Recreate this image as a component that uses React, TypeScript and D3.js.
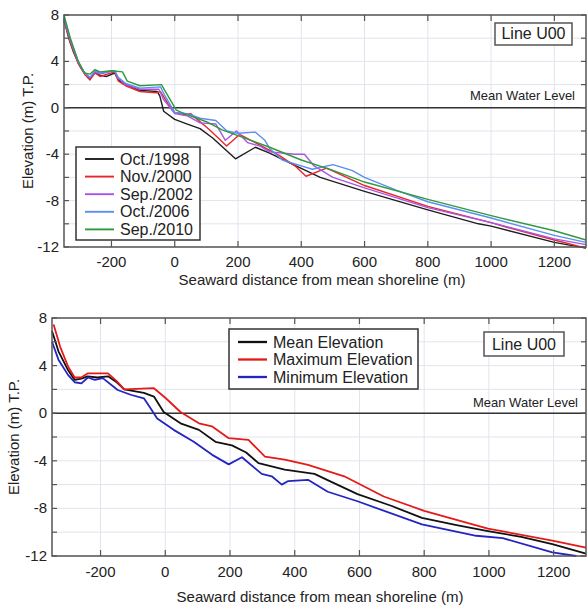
import * as d3 from 'd3';
import React from 'react';

// survey profiles, [distance (m), elevation (m T.P.)]
const oct1998 = [[-350,7.6],[-335,6.0],[-320,4.8],[-300,3.6],[-285,3.0],[-268,2.5],[-252,3.1],[-236,2.8],[-215,2.7],[-190,3.0],[-178,2.4],[-155,2.0],[-110,1.5],[-55,1.4],[-47,1.0],[-35,-0.3],[0,-1.0],[40,-1.4],[80,-1.8],[120,-2.6],[192,-4.4],[255,-3.4],[300,-3.9],[360,-4.7],[460,-6.0],[600,-7.2],[800,-8.8],[960,-10.0],[1000,-10.2],[1200,-11.6],[1300,-12.1]];
const nov2000 = [[-350,7.5],[-330,5.6],[-305,3.8],[-285,2.9],[-268,2.4],[-252,3.0],[-236,2.7],[-190,3.1],[-178,2.3],[-155,1.9],[-110,1.4],[-60,1.3],[-45,1.4],[-20,0.3],[0,-0.4],[30,-0.6],[50,-0.5],[110,-1.9],[164,-3.3],[205,-2.3],[268,-3.2],[330,-4.1],[380,-5.0],[415,-5.9],[480,-5.2],[600,-6.7],[800,-8.5],[1000,-9.9],[1050,-10.3],[1200,-11.4],[1300,-12.1]];
const sep2002 = [[-350,7.7],[-330,5.8],[-305,3.9],[-285,3.0],[-268,2.6],[-252,3.1],[-236,2.9],[-190,3.2],[-180,2.6],[-155,2.0],[-110,1.6],[-50,1.6],[-35,0.7],[0,-0.5],[40,-0.7],[80,-1.3],[130,-1.4],[160,-2.8],[195,-2.0],[230,-3.0],[270,-3.3],[300,-3.8],[380,-4.0],[410,-4.0],[440,-5.0],[500,-6.0],[600,-6.9],[800,-8.6],[1000,-9.9],[1200,-11.3],[1300,-11.8]];
const oct2006 = [[-350,7.8],[-330,5.9],[-305,4.0],[-285,3.0],[-268,2.6],[-252,3.2],[-236,3.0],[-190,3.2],[-178,2.6],[-155,2.1],[-110,1.7],[-45,1.8],[-30,1.0],[0,-0.4],[40,-0.5],[80,-0.9],[130,-1.1],[165,-2.0],[200,-2.2],[255,-2.1],[285,-2.8],[300,-3.5],[340,-4.5],[400,-5.0],[435,-5.3],[500,-4.9],[560,-5.4],[600,-6.0],[700,-7.1],[800,-8.1],[1000,-9.5],[1200,-11.0],[1300,-11.6]];
const sep2010 = [[-350,8.0],[-330,6.0],[-305,4.0],[-285,3.0],[-268,2.9],[-252,3.3],[-236,3.1],[-200,3.2],[-165,3.1],[-150,2.3],[-110,1.9],[-42,2.0],[-25,1.2],[5,-0.2],[30,-0.5],[60,-0.8],[100,-1.2],[150,-1.9],[200,-2.4],[300,-3.4],[400,-4.5],[500,-5.4],[600,-6.4],[800,-7.9],[1000,-9.3],[1200,-10.6],[1300,-11.4]];

const meanElev = [[-350,6.9],[-330,5.2],[-300,3.6],[-280,2.8],[-259,2.9],[-240,3.1],[-210,3.0],[-177,3.1],[-150,2.6],[-127,2.0],[-66,1.7],[-35,1.4],[-5,0.1],[47,-0.85],[104,-1.4],[155,-2.4],[206,-2.7],[250,-3.3],[288,-4.2],[369,-4.75],[461,-5.1],[500,-5.6],[594,-6.8],[700,-7.8],[793,-8.8],[900,-9.4],[997,-9.9],[1100,-10.4],[1196,-11.0],[1300,-11.8]];
const maxElev = [[-345,7.45],[-325,5.6],[-300,3.9],[-280,3.0],[-260,3.0],[-239,3.35],[-177,3.35],[-150,2.7],[-127,2.0],[-35,2.1],[0,1.3],[47,0.1],[104,-0.85],[144,-1.1],[196,-2.1],[257,-2.25],[308,-3.65],[369,-3.9],[441,-4.35],[553,-5.3],[675,-7.0],[800,-8.2],[997,-9.7],[1196,-10.7],[1300,-11.3]];
const minElev = [[-350,6.0],[-330,4.5],[-300,3.2],[-280,2.6],[-259,2.5],[-239,3.0],[-218,2.8],[-193,2.95],[-147,1.95],[-107,1.55],[-66,1.25],[-45,0.4],[-25,-0.45],[26,-1.4],[88,-2.4],[145,-3.5],[196,-4.3],[237,-3.7],[298,-5.1],[329,-5.3],[360,-6.0],[380,-5.7],[441,-5.6],[502,-6.6],[594,-7.4],[793,-9.35],[961,-10.3],[1043,-10.5],[1196,-11.7],[1270,-12.0]];

const xTicks = [-200, 0, 200, 400, 600, 800, 1000, 1200];
const yTicks = [-12, -8, -4, 0, 4, 8];
const yMinor = [-10, -6, -2, 2, 6];

const surveyNames = ['Oct./1998', 'Nov./2000', 'Sep./2002', 'Oct./2006', 'Sep./2010'];
const statNames = ['Mean Elevation', 'Maximum Elevation', 'Minimum Elevation'];

const FONT = 'Arial, "Liberation Sans", sans-serif';

type Series = { name: string; data: number[][]; color: string; width: number };

const Panel = ({ top, left, right, bottom, series, legend, lineBox, mwl, yLabelX, xLabelX, xTickY, xLabelY }) => {
  const x = d3.scaleLinear([-350, 1300], [left, right]);
  const y = d3.scaleLinear([-12, 8], [bottom, top]);
  const line = d3.line<number[]>(d => x(d[0]), d => y(d[1]));
  const grid = '#e3e3ef';
  const axis = '#555';
  return (
    <g fontFamily={FONT}>
      {xTicks.map(t => <line key={'gx' + t} x1={x(t)} x2={x(t)} y1={top} y2={bottom} stroke={grid} />)}
      {[...yTicks, ...yMinor].map(t => <line key={'gy' + t} x1={left} x2={right} y1={y(t)} y2={y(t)} stroke={grid} />)}
      <line x1={left} x2={right} y1={y(0)} y2={y(0)} stroke="#333" strokeWidth={1.5} />
      <text x={mwl[0]} y={mwl[1]} fontSize={13} textAnchor="end" fill="#222">Mean Water Level</text>
      <g fill="none" strokeLinejoin="round">
        {series.map(s => <path key={s.name} d={line(s.data)} stroke={s.color} strokeWidth={s.width} />)}
      </g>
      <rect x={left} y={top} width={right - left} height={bottom - top} fill="none" stroke={axis} strokeWidth={1.5} />
      {xTicks.map(t => (
        <g key={'tx' + t} stroke={axis} strokeWidth={1.2}>
          <line x1={x(t)} x2={x(t)} y1={bottom} y2={bottom - 6} />
          <line x1={x(t)} x2={x(t)} y1={top} y2={top + 6} />
        </g>
      ))}
      {[...yTicks, ...yMinor].map(t => (
        <g key={'ty' + t} stroke={axis} strokeWidth={1.2}>
          <line x1={left} x2={left + 5} y1={y(t)} y2={y(t)} />
          <line x1={right} x2={right - 5} y1={y(t)} y2={y(t)} />
        </g>
      ))}
      {xTicks.map(t => (
        <text key={'lx' + t} x={x(t)} y={xTickY} fontSize={15} textAnchor="middle" fill="#222">{t}</text>
      ))}
      {yTicks.map(t => (
        <text key={'ly' + t} x={left - 5} y={y(t) + 5} fontSize={15} textAnchor="end" fill="#222">{t}</text>
      ))}
      <text transform={`translate(${yLabelX},${(top + bottom) / 2}) rotate(-90)`} fontSize={15} textAnchor="middle" fill="#222">Elevation (m) T.P.</text>
      <text x={xLabelX} y={xLabelY} fontSize={15} textAnchor="middle" fill="#222">Seaward distance from mean shoreline (m)</text>
      <rect x={lineBox[0]} y={lineBox[1]} width={lineBox[2]} height={lineBox[3]} fill="white" stroke={axis} strokeWidth={1.5} />
      <text x={lineBox[0] + lineBox[2] / 2} y={lineBox[1] + lineBox[3] - 6} fontSize={16} textAnchor="middle" fill="#222">Line U00</text>
      <rect x={legend.x} y={legend.y} width={legend.w} height={legend.h} fill="white" stroke="#333" strokeWidth={1.5} />
      {series.map((s, i) => {
        const ly = legend.y + legend.pad + i * legend.step;
        return (
          <g key={'lg' + s.name}>
            <line x1={legend.x + 9} x2={legend.x + 38} y1={ly} y2={ly} stroke={s.color} strokeWidth={s.width + 0.5} />
            <text x={legend.x + 44} y={ly + 5.5} fontSize={16} fill="#222">{s.name}</text>
          </g>
        );
      })}
    </g>
  );
};

export default function App() {
  const topColors = ['#1e1e1e', '#e8262c', '#a855e6', '#5b8ef0', '#2e9a3c'];
  const topSeries: Series[] = [oct1998, nov2000, sep2002, oct2006, sep2010].map((d, i) => ({
    name: surveyNames[i], data: d, color: topColors[i], width: 1.4,
  }));
  const botColors = ['#111', '#e41a1a', '#2424c0'];
  const botSeries: Series[] = [meanElev, maxElev, minElev].map((d, i) => ({
    name: statNames[i], data: d, color: botColors[i], width: 1.8,
  }));
  return (
    <svg width={587} height={609} style={{ position: 'absolute', left: 0, top: 0, background: 'white' }}>
      <Panel top={15} left={64} right={586} bottom={247} series={topSeries}
        legend={{ x: 76, y: 147, w: 124, h: 93, pad: 12, step: 17.6 }}
        lineBox={[495, 23, 77, 22]} mwl={[575, 100]} yLabelX={33} xLabelX={322} xTickY={267} xLabelY={285} />
      <Panel top={318} left={52} right={586} bottom={556} series={botSeries}
        legend={{ x: 229, y: 329, w: 189, h: 60, pad: 13, step: 17.5 }}
        lineBox={[484, 332, 80, 24]} mwl={[578, 407]} yLabelX={19} xLabelX={320} xTickY={577} xLabelY={602} />
    </svg>
  );
}
